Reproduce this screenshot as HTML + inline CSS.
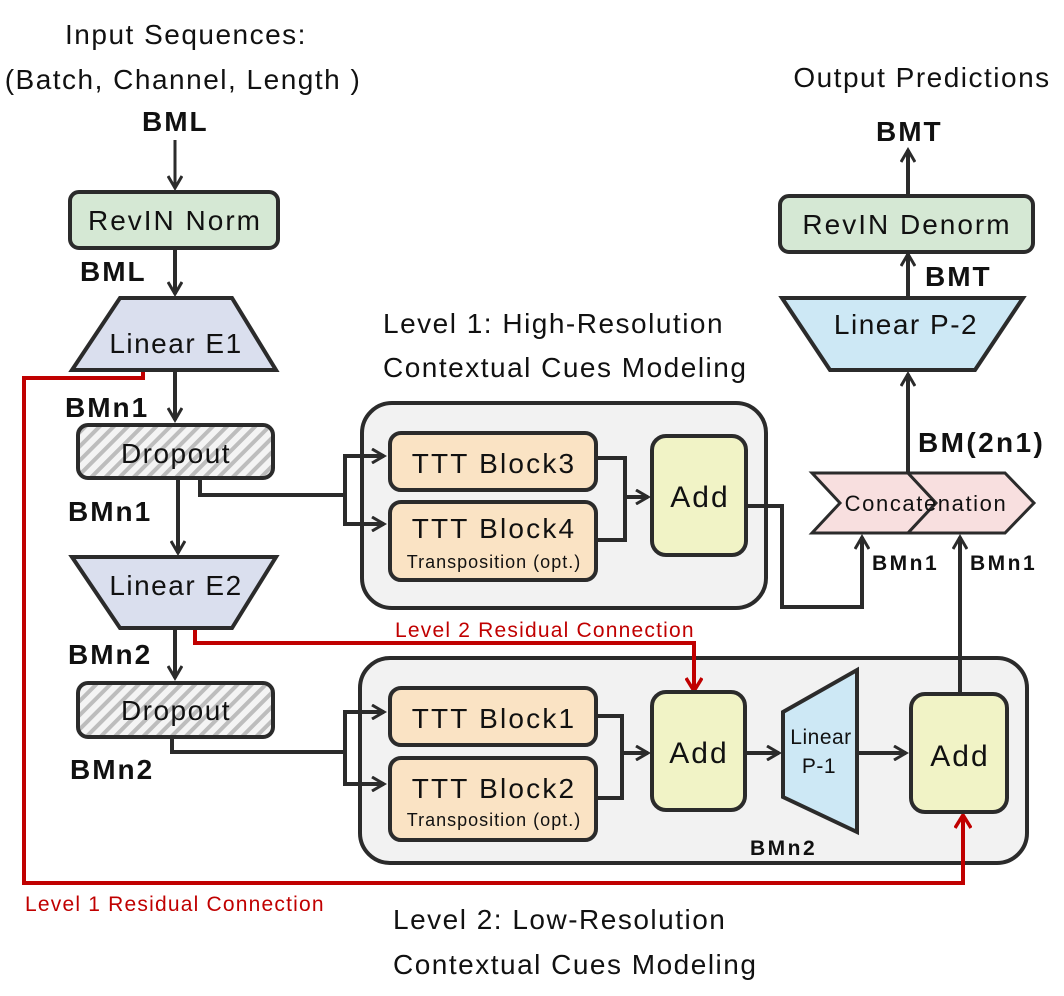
<!DOCTYPE html>
<html><head><meta charset="utf-8"><style>
html,body{margin:0;padding:0;background:#fff}
svg{display:block}
text{font-family:"Liberation Sans",sans-serif;fill:#111}
.b{font-weight:bold}
</style></head><body>
<svg width="1064" height="996" viewBox="0 0 1064 996" xmlns="http://www.w3.org/2000/svg">
<defs>
<pattern id="h" patternUnits="userSpaceOnUse" width="10" height="10" patternTransform="rotate(45)">
<rect width="10" height="10" fill="#f4f4f4"/><rect width="4" height="10" fill="#bdbdbd"/>
</pattern>
<marker id="a" markerWidth="16" markerHeight="16" refX="13" refY="8" orient="auto" markerUnits="userSpaceOnUse">
<path d="M1,1 L13,8 L1,15" fill="none" stroke="#2b2b2b" stroke-width="3"/></marker>
<marker id="ar" markerWidth="16" markerHeight="18" refX="13" refY="9" orient="auto" markerUnits="userSpaceOnUse">
<path d="M1,1 L14,9 L1,17" fill="none" stroke="#c00000" stroke-width="3.5"/></marker>
</defs>
<g stroke="#2b2b2b" stroke-width="4" fill="none">
<rect x="362" y="403" width="404" height="205" rx="30" fill="#f2f2f2"/>
<rect x="360" y="658" width="667" height="205" rx="30" fill="#f2f2f2"/>
</g>
<g stroke="#2b2b2b" stroke-width="4" fill="none">
<line x1="175" y1="140" x2="175" y2="188" marker-end="url(#a)" stroke-width="3"/>
<line x1="175" y1="250" x2="175" y2="294" marker-end="url(#a)"/>
<line x1="175" y1="372" x2="175" y2="420" marker-end="url(#a)"/>
<line x1="178" y1="480" x2="178" y2="553" marker-end="url(#a)"/>
<line x1="175" y1="630" x2="175" y2="678" marker-end="url(#a)"/>
<polyline points="200,480 200,495 345,495"/>
<polyline points="384,456 345,456 345,524 384,524" marker-end="url(#a)"/>
<line x1="345" y1="456" x2="384" y2="456" marker-end="url(#a)"/>
<polyline points="172,739 172,752 345,752"/>
<polyline points="384,712 345,712 345,784 384,784" marker-end="url(#a)"/>
<line x1="345" y1="712" x2="384" y2="712" marker-end="url(#a)"/>
<polyline points="596,458 625,458 625,540 596,540"/>
<line x1="625" y1="497" x2="648" y2="497" marker-end="url(#a)"/>
<polyline points="596,716 622,716 622,798 596,798"/>
<line x1="622" y1="753" x2="648" y2="753" marker-end="url(#a)"/>
<line x1="745" y1="753" x2="779" y2="753" marker-end="url(#a)"/>
<line x1="857" y1="753" x2="906" y2="753" marker-end="url(#a)"/>
<polyline points="746,506 782,506 782,607 862,607 862,537" marker-end="url(#a)"/>
<line x1="960" y1="694" x2="960" y2="537" marker-end="url(#a)"/>
<line x1="908" y1="473" x2="908" y2="374" marker-end="url(#a)"/>
<line x1="908" y1="298" x2="908" y2="254" marker-end="url(#a)"/>
<line x1="908" y1="196" x2="908" y2="150" marker-end="url(#a)"/>
</g>
<g stroke="#c00000" stroke-width="4" fill="none">
<polyline points="143,370 143,378 24,378 24,883 963,883 963,816" marker-end="url(#ar)"/>
<polyline points="195,628 195,643 694,643 694,690" marker-end="url(#ar)"/>
</g>
<g stroke="#2b2b2b" stroke-width="4">
<rect x="70" y="192" width="208" height="56" rx="9" fill="#d5e8d4"/>
<polygon points="120,298 232,298 276,370 72,370" fill="#dadfee"/>
<rect x="78" y="425" width="195" height="53" rx="10" fill="url(#h)"/>
<polygon points="72,557 276,557 232,628 120,628" fill="#dadfee"/>
<rect x="78" y="683" width="195" height="54" rx="10" fill="url(#h)"/>
<rect x="390" y="433" width="206" height="57" rx="11" fill="#fae3c4"/>
<rect x="390" y="502" width="206" height="78" rx="11" fill="#fae3c4"/>
<rect x="652" y="436" width="94" height="119" rx="14" fill="#f1f3c6"/>
<rect x="390" y="688" width="206" height="57" rx="11" fill="#fae3c4"/>
<rect x="390" y="758" width="206" height="82" rx="11" fill="#fae3c4"/>
<rect x="652" y="692" width="93" height="118" rx="14" fill="#f1f3c6"/>
<polygon points="783,712 857,670 857,832 783,797" fill="#cde8f5"/>
<rect x="911" y="694" width="96" height="118" rx="14" fill="#f1f3c6"/>
<rect x="780" y="196" width="253" height="56" rx="9" fill="#d5e8d4"/>
<polygon points="782,298 1023,298 975,370 830,370" fill="#cde8f5"/>
</g>
<g stroke="#2b2b2b" stroke-width="3" fill="#f8dfdf">
<polygon points="812,473 908,473 936,503 908,533 812,533 840,503"/>
<polygon points="908,473 1005,473 1034,503 1005,533 908,533 936,503"/>
</g>
<line x1="908" y1="473" x2="908" y2="400" stroke="#2b2b2b" stroke-width="4"/>
<g font-size="28" text-anchor="middle" letter-spacing="1.5">
<text x="186" y="44">Input Sequences:</text>
<text x="183" y="89">(Batch, Channel, Length )</text>
<text x="922" y="87">Output Predictions</text>
<text x="175" y="230" letter-spacing="2">RevIN Norm</text>
<text x="176" y="353">Linear E1</text>
<text x="176" y="463">Dropout</text>
<text x="176" y="595">Linear E2</text>
<text x="176" y="720">Dropout</text>
<text x="494" y="473" letter-spacing="2.2">TTT Block3</text>
<text x="494" y="538" letter-spacing="2.2">TTT Block4</text>
<text x="494" y="568" font-size="18" letter-spacing="1">Transposition (opt.)</text>
<text x="700" y="507" font-size="30" letter-spacing="2">Add</text>
<text x="494" y="728" letter-spacing="2.2">TTT Block1</text>
<text x="494" y="798" letter-spacing="2.2">TTT Block2</text>
<text x="494" y="826" font-size="18" letter-spacing="1">Transposition (opt.)</text>
<text x="699" y="763" font-size="30" letter-spacing="2">Add</text>
<text x="960" y="766" font-size="30" letter-spacing="2">Add</text>
<text x="821" y="744" font-size="21" letter-spacing="0.5">Linear</text>
<text x="819" y="773" font-size="21" letter-spacing="0.5">P-1</text>
<text x="907" y="234" letter-spacing="2">RevIN Denorm</text>
<text x="906" y="334">Linear P-2</text>
<text x="926" y="511" font-size="22" letter-spacing="1.6">Concatenation</text>
</g>
<g font-size="28" letter-spacing="1.5">
<text x="383" y="333">Level 1: High-Resolution</text>
<text x="383" y="377">Contextual Cues Modeling</text>
<text x="393" y="929">Level 2: Low-Resolution</text>
<text x="393" y="974">Contextual Cues Modeling</text>
</g>
<g font-size="21" letter-spacing="1.2">
<text x="395" y="637" style="fill:#c00000">Level 2 Residual Connection</text>
<text x="25" y="911" style="fill:#c00000">Level 1 Residual Connection</text>
</g>
<g class="b" font-size="28" letter-spacing="2">
<text x="142" y="131" class="b">BML</text>
<text x="80" y="281" class="b">BML</text>
<text x="65" y="417" class="b">BMn1</text>
<text x="68" y="521" class="b">BMn1</text>
<text x="68" y="664" class="b">BMn2</text>
<text x="70" y="779" class="b">BMn2</text>
<text x="876" y="141" class="b">BMT</text>
<text x="925" y="286" class="b">BMT</text>
<text x="918" y="452" class="b" letter-spacing="2.4">BM(2n1)</text>
<text x="872" y="570" class="b" font-size="21" letter-spacing="2.5">BMn1</text>
<text x="970" y="570" class="b" font-size="21" letter-spacing="2.5">BMn1</text>
<text x="750" y="855" class="b" font-size="21" letter-spacing="2.5">BMn2</text>
</g>
</svg>
</body></html>
